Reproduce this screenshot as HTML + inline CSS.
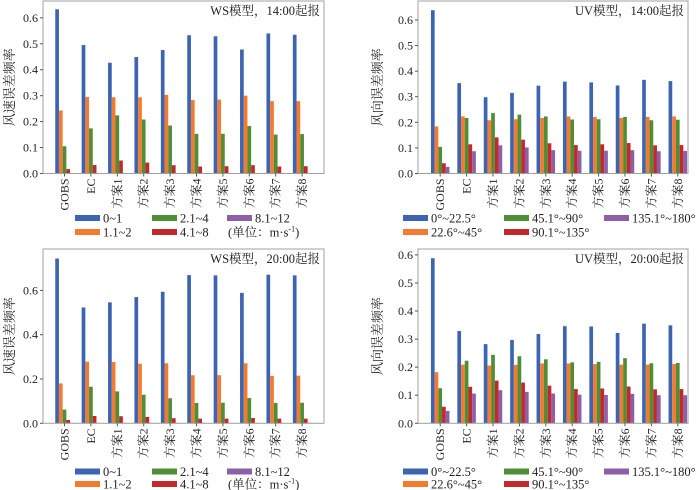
<!DOCTYPE html>
<html><head><meta charset="utf-8"><style>
body{margin:0;background:#fff;}
svg{display:block;font-family:"Liberation Serif","Noto Serif CJK SC",serif;}
</style></head><body>
<svg id="c" width="700" height="490"></svg>
<script>
const categories=["GOBS","EC","方案1","方案2","方案3","方案4","方案5","方案6","方案7","方案8"];
const wsLegend=["0~1","1.1~2","2.1~4","4.1~8","8.1~12"];
const uvLegend=["0°~22.5°","22.6°~45°","45.1°~90°","90.1°~135°","135.1°~180°"];
const colors=["#3c64b1","#f27b30","#4f8d36","#c3282c","#8c5fa8"];
const ws14_a=[0.633,0.495,0.427,0.449,0.476,0.533,0.529,0.478,0.540,0.535];
const ws14_b=[0.243,0.295,0.294,0.294,0.303,0.283,0.285,0.300,0.279,0.279];
const ws14_c=[0.105,0.174,0.224,0.208,0.185,0.153,0.153,0.183,0.150,0.152];
const ws14_d=[0.017,0.033,0.050,0.042,0.032,0.027,0.028,0.032,0.027,0.028];
const ws14_e=[0.002,0.002,0.002,0.002,0.002,0.002,0.002,0.002,0.002,0.002];
const uv14_a=[0.638,0.353,0.298,0.315,0.343,0.359,0.356,0.344,0.366,0.361];
const uv14_b=[0.184,0.223,0.208,0.212,0.217,0.223,0.221,0.217,0.221,0.223];
const uv14_c=[0.104,0.217,0.236,0.230,0.223,0.211,0.212,0.221,0.208,0.210];
const uv14_d=[0.040,0.114,0.141,0.132,0.118,0.111,0.114,0.119,0.110,0.111];
const uv14_e=[0.026,0.087,0.110,0.102,0.091,0.089,0.089,0.091,0.087,0.088];
const ws20_a=[0.744,0.523,0.546,0.570,0.594,0.669,0.668,0.589,0.671,0.668];
const ws20_b=[0.180,0.278,0.277,0.269,0.271,0.217,0.217,0.271,0.214,0.215];
const ws20_c=[0.062,0.165,0.144,0.129,0.113,0.092,0.093,0.114,0.092,0.093];
const ws20_d=[0.015,0.033,0.032,0.029,0.023,0.021,0.021,0.024,0.021,0.021];
const ws20_e=[0.002,0.002,0.002,0.002,0.002,0.002,0.002,0.002,0.002,0.002];
const uv20_a=[0.588,0.329,0.282,0.297,0.318,0.346,0.345,0.322,0.355,0.349];
const uv20_b=[0.182,0.209,0.206,0.208,0.213,0.213,0.211,0.209,0.209,0.211];
const uv20_c=[0.125,0.223,0.244,0.239,0.228,0.217,0.219,0.232,0.214,0.215];
const uv20_d=[0.059,0.130,0.152,0.145,0.134,0.122,0.124,0.131,0.121,0.122];
const uv20_e=[0.044,0.106,0.118,0.112,0.106,0.102,0.101,0.105,0.100,0.100];
const ticksA=[0,0.1,0.2,0.3,0.4,0.5,0.6];
const ticksB=[0,0.2,0.4,0.6];

const NS="http://www.w3.org/2000/svg";
const svg=document.getElementById('c');
function mk(tag,attrs,parent,text){const e=document.createElementNS(NS,tag);for(const k in attrs)e.setAttribute(k,attrs[k]);if(text!==undefined)e.textContent=text;(parent||svg).appendChild(e);return e;}

const panels=[
 {id:'ws14',x0:43,x1:324,top:1,bottom:173.5,vmax:0.665,ticks:ticksA,series:[ws14_a,ws14_b,ws14_c,ws14_d,ws14_e],title:"WS模型，14:00起报",ytitle:"风速误差频率",ws:true,legY:218,legDy:14},
 {id:'uv14',x0:418,x1:688,top:1,bottom:173.5,vmax:0.674,ticks:ticksA,series:[uv14_a,uv14_b,uv14_c,uv14_d,uv14_e],title:"UV模型，14:00起报",ytitle:"风向误差频率",ws:false,legY:218,legDy:14},
 {id:'ws20',x0:43,x1:324,top:249,bottom:423.3,vmax:0.787,ticks:ticksB,series:[ws20_a,ws20_b,ws20_c,ws20_d,ws20_e],title:"WS模型，20:00起报",ytitle:"风速误差频率",ws:true,legY:471.5,legDy:12.5},
 {id:'uv20',x0:418,x1:688,top:249,bottom:423.3,vmax:0.621,ticks:ticksA,series:[uv20_a,uv20_b,uv20_c,uv20_d,uv20_e],title:"UV模型，20:00起报",ytitle:"风向误差频率",ws:false,legY:471.5,legDy:12.5}
];
panels.forEach(p=>{
 const g=mk('g',{});
 
 
 const y=v=>p.bottom-(v/p.vmax)*(p.bottom-p.top);
 const c0=p.ws?64.5:440.2, step=26.4, bw=3.7;
 const cx=i=>c0+i*step;
 p.series.forEach((s,k)=>{
  s.forEach((v,i)=>{
   const r=mk('rect',{x:cx(i)+(k-2.5)*bw,y:y(v),width:bw,height:p.bottom-y(v),fill:colors[k]},g);
   
   
  });
 });
 const fr=mk('rect',{x:p.x0,y:p.top,width:p.x1-p.x0,height:p.bottom-p.top,fill:'none',stroke:'#a0a0a0','stroke-width':1},g);
 
 
 p.ticks.forEach(t=>{
  mk('line',{x1:p.x0-3,x2:p.x0,y1:y(t),y2:y(t),stroke:'#555'},g);
  const tl=mk('text',{x:p.x0-5,y:y(t)+4,'text-anchor':'end','font-size':12,fill:'#222'},g,t.toFixed(1));
  
  
 });
 categories.forEach((c,i)=>{
  const x=cx(i);
  mk('line',{x1:x,x2:x,y1:p.bottom,y2:p.bottom+3,stroke:'#555'},g);
  const tl=mk('text',{transform:`translate(${x+4},${p.bottom+5}) rotate(-90)`,'text-anchor':'end','font-size':12,fill:'#222'},g,c);
  
  
 });
 const tt=mk('text',{x:p.x1-4,y:p.top+14,'text-anchor':'end','font-size':12.5,fill:'#222'},g,p.title);
 
 
 const yt=mk('text',{transform:`translate(${p.ws?14:382},${(p.top+p.bottom)/2}) rotate(-90)`,'text-anchor':'middle','font-size':13,fill:'#222'},g,p.ytitle);
 
 
 const labels=p.ws?wsLegend:uvLegend;
 const colX=p.ws?[75,152,227]:[403,504,604];
 labels.forEach((l,k)=>{
  const col=Math.floor(k/2), row=k%2;
  const lx=colX[col], ly=p.legY+row*p.legDy;
  const e=mk('g',{},g);
  
  
  mk('rect',{x:lx,y:ly-3,width:25,height:6,fill:colors[k]},e);
  mk('text',{x:lx+28,y:ly+4.5,'font-size':12.5,fill:'#222'},e,l);
 });
 if(p.ws){
  const u=mk('text',{x:228,y:p.legY+p.legDy+4.5,'font-size':12.5,fill:'#222'},g);
  
  
  u.innerHTML='(单位：m·s<tspan dy="-5" font-size="8">-1</tspan><tspan dy="5">)</tspan>';
 }
});
</script>
</body></html>
